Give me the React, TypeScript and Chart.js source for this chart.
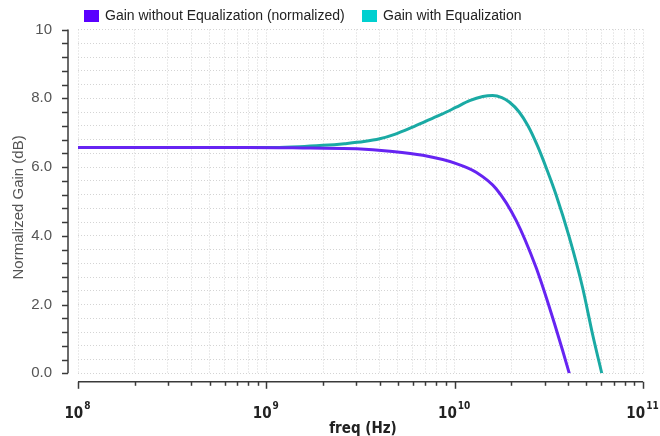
import React, { useEffect, useRef } from 'react';
import { Chart, registerables } from 'chart.js';

Chart.register(...registerables);

// ---- data ----
const seriesNames = ['Gain without Equalization (normalized)', 'Gain with Equalization'];

const freqWithout = [1e8, 8e8, 1.71e9, 3.02e9, 4.53e9, 6.78e9, 1.02e10, 1.3e10, 1.66e10, 2.12e10, 2.7e10, 3.18e10, 3.74e10, 4.06e10];
const gainWithout = [6.57, 6.57, 6.55, 6.53, 6.46, 6.34, 6.1, 5.85, 5.37, 4.45, 3.09, 1.93, 0.67, 0];

const freqWith = [1e8, 1.1e9, 1.5e9, 2.0e9, 2.6e9, 3.3e9, 4.0e9, 4.8e9, 5.8e9, 7.0e9, 8.5e9, 1.02e10, 1.2e10, 1.41e10, 1.59e10, 1.78e10, 1.95e10, 2.2e10, 2.45e10, 2.75e10, 3.1e10, 3.45e10, 4.06e10, 4.77e10, 5.39e10, 6.04e10];
const gainWith = [6.57, 6.57, 6.59, 6.63, 6.68, 6.74, 6.82, 6.95, 7.13, 7.33, 7.53, 7.74, 7.93, 8.05, 8.08, 8.02, 7.89, 7.6, 7.2, 6.62, 5.9, 5.2, 3.96, 2.51, 1.15, 0];

const xDecadeExponents = [8, 9, 10, 11];
const xMinorMultipliers = [1, 2, 3, 4, 5, 6, 7, 8, 9];
const yMajorValues = [0, 2, 4, 6, 8, 10];
const yMajorLabels = ['0.0', '2.0', '4.0', '6.0', '8.0', '10'];
const yMinorStep = 0.4;
const xTitle = 'freq (Hz)';
const yTitle = 'Normalized Gain (dB)';

// ---- derived tick lists ----
const xGridValues: number[] = [];
xDecadeExponents.slice(0, -1).forEach((e) => xMinorMultipliers.forEach((m) => xGridValues.push(m * Math.pow(10, e))));
xGridValues.push(Math.pow(10, xDecadeExponents[xDecadeExponents.length - 1]));
const yGridValues: number[] = [];
for (let i = 0; i <= Math.round(10 / yMinorStep); i++) yGridValues.push(+(i * yMinorStep).toFixed(2));

const purpleLine = '#6624f2';
const tealLine = '#1aaaa4';
const purpleKey = '#5a00ff';
const tealKey = '#00d0d0';
const narrowBold = '"Liberation Sans Narrow", "DejaVu Sans Condensed", sans-serif';
const legendKeyX = [84, 362];

const axesPlugin = {
  id: 'customAxes',
  afterDraw(chart: any) {
    const { ctx, chartArea } = chart;
    const x = chart.scales.x;
    const y = chart.scales.y;
    ctx.save();
    ctx.strokeStyle = '#3a3a3a';
    ctx.lineWidth = 1.5;
    const line = (x1: number, y1: number, x2: number, y2: number) => {
      ctx.beginPath();
      ctx.moveTo(x1, y1);
      ctx.lineTo(x2, y2);
      ctx.stroke();
    };
    // y axis
    const ax = chartArea.left - 10;
    line(ax, y.getPixelForValue(10), ax, y.getPixelForValue(0));
    yGridValues.forEach((v) => {
      const py = Math.round(y.getPixelForValue(v)) + 0.5;
      line(ax - 6, py, ax, py);
    });
    ctx.fillStyle = '#555';
    ctx.font = '15px "Liberation Sans", Arial, sans-serif';
    ctx.textAlign = 'right';
    ctx.textBaseline = 'middle';
    yMajorValues.forEach((v, i) => {
      ctx.fillText(yMajorLabels[i], ax - 16, y.getPixelForValue(v));
    });
    // y title
    ctx.save();
    ctx.translate(19, (chartArea.top + chartArea.bottom) / 2 + 6);
    ctx.rotate(-Math.PI / 2);
    ctx.textAlign = 'center';
    ctx.font = '15px "Liberation Sans", Arial, sans-serif';
    ctx.fillText(yTitle, 0, 0);
    ctx.restore();

    // x axis
    const ay = chartArea.bottom + 8.5;
    line(x.getPixelForValue(xGridValues[0]), ay, x.getPixelForValue(xGridValues[xGridValues.length - 1]), ay);
    xGridValues.forEach((v) => {
      const px = Math.round(x.getPixelForValue(v)) + 0.5;
      const isDecade = Math.abs(Math.log10(v) - Math.round(Math.log10(v))) < 1e-9;
      line(px, ay, px, ay + (isDecade ? 7 : 4));
    });
    ctx.fillStyle = '#222';
    ctx.textBaseline = 'alphabetic';
    xDecadeExponents.forEach((e) => {
      const px = x.getPixelForValue(Math.pow(10, e));
      ctx.font = 'bold 15px ' + narrowBold;
      const baseW = ctx.measureText('10').width;
      ctx.font = 'bold 10px ' + narrowBold;
      const expW = ctx.measureText(String(e)).width;
      const start = px - (baseW + expW) / 2 - 1;
      ctx.textAlign = 'left';
      ctx.font = 'bold 15px ' + narrowBold;
      ctx.fillText('10', start, 418);
      ctx.font = 'bold 10px ' + narrowBold;
      ctx.fillText(String(e), start + baseW + 1, 409);
    });
    ctx.textAlign = 'center';
    ctx.font = 'bold 15px ' + narrowBold;
    ctx.fillText(xTitle, 363, 433);

    // legend
    ctx.textAlign = 'left';
    ctx.textBaseline = 'middle';
    ctx.font = '14px "Liberation Sans", Arial, sans-serif';
    const keys = [purpleKey, tealKey];
    seriesNames.forEach((name, i) => {
      const lx = legendKeyX[i];
      ctx.fillStyle = keys[i];
      ctx.fillRect(lx, 10, 15, 12);
      ctx.fillStyle = '#222';
      ctx.fillText(name, lx + 21, 16.5);
    });
    ctx.restore();
  },
};

export default function App() {
  const ref = useRef<HTMLCanvasElement>(null);
  useEffect(() => {
    if (!ref.current) return;
    const chart = new Chart(ref.current, {
      type: 'line',
      data: {
        datasets: [
          {
            label: seriesNames[0],
            data: freqWithout.map((f, i) => ({ x: f, y: gainWithout[i] })),
            borderColor: purpleLine,
            backgroundColor: purpleLine,
            borderWidth: 3,
            pointRadius: 0,
            cubicInterpolationMode: 'monotone',
          },
          {
            label: seriesNames[1],
            data: freqWith.map((f, i) => ({ x: f, y: gainWith[i] })),
            borderColor: tealLine,
            backgroundColor: tealLine,
            borderWidth: 3,
            pointRadius: 0,
            cubicInterpolationMode: 'monotone',
          },
        ],
      },
      options: {
        animation: false,
        responsive: false,
        layout: { padding: { left: 78, right: 17, top: 29.5, bottom: 62.7 } },
        plugins: { legend: { display: false }, tooltip: { enabled: false } },
        scales: {
          x: {
            type: 'logarithmic',
            min: 1e8,
            max: 1e11,
            afterBuildTicks: (s: any) => {
              s.ticks = xGridValues.map((v) => ({ value: v }));
            },
            ticks: { display: false },
            grid: { color: '#d4d4d4', lineWidth: 1, drawTicks: false },
            border: { display: false, dash: [1, 2] },
          },
          y: {
            type: 'linear',
            min: 0,
            max: 10,
            afterBuildTicks: (s: any) => {
              s.ticks = yGridValues.map((v) => ({ value: v }));
            },
            ticks: { display: false },
            grid: { color: '#d4d4d4', lineWidth: 1, drawTicks: false },
            border: { display: false, dash: [1, 2] },
          },
        },
      },
      plugins: [axesPlugin],
    } as any);
    return () => chart.destroy();
  }, []);
  return (
    <div style={{ position: 'fixed', left: 0, top: 0, width: 660, height: 436, background: '#fff' }}>
      <canvas ref={ref} width={660} height={436} />
    </div>
  );
}
